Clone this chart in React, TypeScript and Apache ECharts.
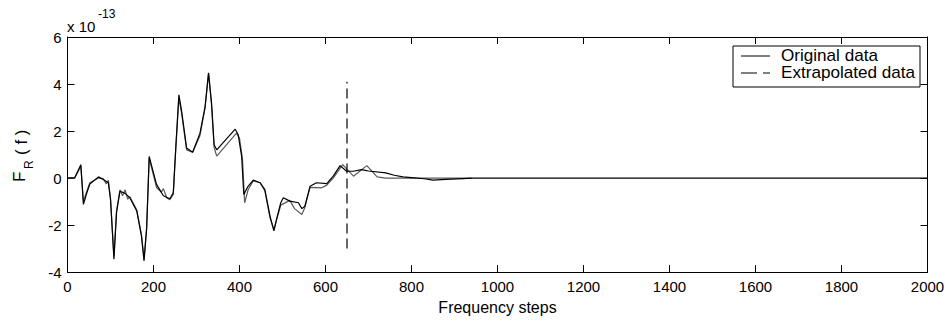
import React, { useEffect, useRef } from "react";
import * as echarts from "echarts";

// Values in units of 1e-13
const originalData: [number, number][] = [
  [0, 0], [17, 0.02], [31, 0.57], [37, -1.12], [45, -0.63], [52, -0.25], [72, 0.05], [83, -0.06],
  [95, -0.2], [100, -0.91], [108, -3.45], [114, -1.47], [122, -0.56], [134, -0.65], [145, -0.84],
  [161, -1.4], [172, -2.47], [178, -3.52], [184, -2.18], [190, 0.92], [196, 0.5], [207, -0.27],
  [223, -0.75], [238, -0.88], [246, -0.63], [252, 1.35], [259, 3.54], [265, 2.9], [277, 1.28],
  [291, 1.1], [308, 1.9], [320, 3.04], [328, 4.48], [335, 3.19], [341, 1.42], [347, 1.2],
  [390, 2.08], [397, 1.84], [405, 0.92], [410, -0.7], [420, -0.35], [432, -0.09], [448, -0.2],
  [459, -0.49], [471, -1.62], [480, -2.25], [486, -1.76], [496, -1.05], [502, -0.84], [517, -0.98],
  [537, -1.05], [545, -1.3], [552, -1.2], [564, -0.35], [579, -0.2], [603, -0.24], [618, 0.08],
  [634, 0.53], [649, 0.29], [665, 0.29], [684, 0.36], [700, 0.3], [740, 0.22], [760, 0.12],
  [780, 0.05], [800, 0.02], [830, -0.03], [850, -0.09], [880, -0.06], [920, -0.02], [940, 0],
  [2000, 0],
];

const extrapolatedData: [number, number][] = [
  [0, 0], [17, 0], [31, 0.5], [37, -1.0], [45, -0.55], [52, -0.2], [72, 0.0], [83, -0.02],
  [90, -0.25], [95, -0.1], [100, -0.85], [108, -3.35], [114, -1.4], [122, -0.5], [128, -0.75],
  [134, -0.5], [140, -0.9], [145, -0.8], [161, -1.35], [172, -2.4], [178, -3.45], [184, -2.1],
  [190, 0.85], [196, 0.4], [207, -0.4], [218, -0.6], [223, -0.45], [231, -0.85], [238, -0.92],
  [246, -0.7], [252, 1.3], [259, 3.4], [265, 2.8], [277, 1.2], [291, 1.1], [308, 1.8], [320, 3.0],
  [328, 4.45], [335, 3.1], [341, 1.3], [347, 0.93], [393, 1.91], [400, 1.7], [407, 0.8],
  [412, -1.05], [420, -0.5], [432, -0.12], [448, -0.2], [459, -0.55], [471, -1.7], [480, -2.2],
  [486, -1.8], [496, -1.15], [517, -0.95], [528, -1.3], [545, -1.55], [552, -1.25], [564, -0.4],
  [590, -0.42], [603, -0.3], [618, 0.0], [640, 0.57], [665, 0.08], [696, 0.53], [720, 0.05],
  [740, 0.0], [940, 0.0],
];

const boundaryLine: [number, number][] = [[650, -3], [650, 4.1]];

const xMin = 0, xMax = 2000, xStep = 200;
const yMin = -4, yMax = 6, yStep = 2;

const FONT = "Liberation Sans, Arial, sans-serif";

export default function App() {
  const ref = useRef<HTMLDivElement>(null);
  useEffect(() => {
    if (!ref.current) return;
    const chart = echarts.init(ref.current, undefined, { renderer: "svg" });
    const axisCommon = {
      axisLine: { show: true, onZero: false, lineStyle: { color: "#000", width: 1 } },
      axisTick: { show: true, inside: true, length: 7, lineStyle: { color: "#000", width: 1 } },
      splitLine: { show: false },
    };
    const plain = (v: number) => String(v);
    chart.setOption({
      animation: false,
      backgroundColor: "#fff",
      grid: { left: 67.5, right: 23.5, top: 37, bottom: 47, show: false },
      xAxis: [
        {
          type: "value", min: xMin, max: xMax, interval: xStep, position: "bottom",
          ...axisCommon,
          axisLabel: { color: "#000", fontSize: 15, fontFamily: FONT, margin: 7, formatter: plain },
          name: "Frequency steps", nameLocation: "middle", nameGap: 25,
          nameTextStyle: { color: "#000", fontSize: 16, fontFamily: FONT },
        },
        {
          type: "value", min: xMin, max: xMax, interval: xStep, position: "top",
          ...axisCommon, axisLabel: { show: false },
        },
      ],
      yAxis: [
        {
          type: "value", min: yMin, max: yMax, interval: yStep, position: "left",
          ...axisCommon,
          axisLabel: { color: "#000", fontSize: 15, fontFamily: FONT, margin: 6, formatter: plain },
        },
        {
          type: "value", min: yMin, max: yMax, interval: yStep, position: "right",
          ...axisCommon, axisLabel: { show: false },
        },
      ],
      series: [
        {
          name: "Extrapolated data", type: "line", data: extrapolatedData, showSymbol: false,
          lineStyle: { color: "#5a5a5a", width: 1.2 }, z: 2,
        },
        {
          name: "Original data", type: "line", data: originalData, showSymbol: false,
          lineStyle: { color: "#000", width: 1.2 }, z: 3,
        },
        {
          name: "Extrapolation start", type: "line", data: boundaryLine, showSymbol: false,
          lineStyle: { color: "#000", width: 1.2, type: [10, 5] }, z: 3,
        },
      ],
      graphic: [
        { type: "text", x: 67, y: 26, style: { text: "x 10", font: `15px ${FONT}`, fill: "#000", textVerticalAlign: "middle" } },
        { type: "text", x: 98, y: 14, style: { text: "-13", font: `12px ${FONT}`, fill: "#000", textVerticalAlign: "middle" } },
        { type: "text", x: 19, y: 182, rotation: Math.PI / 2, style: { text: "F", font: `17px ${FONT}`, fill: "#000", textAlign: "left", textVerticalAlign: "middle" } },
        { type: "text", x: 29, y: 169, rotation: Math.PI / 2, style: { text: "R", font: `12px ${FONT}`, fill: "#000", textAlign: "left", textVerticalAlign: "middle" } },
        { type: "text", x: 21, y: 155, rotation: Math.PI / 2, style: { text: "( f )", font: `17px ${FONT}`, fill: "#000", textAlign: "left", textVerticalAlign: "middle" } },
        { type: "rect", shape: { x: 733, y: 46, width: 187, height: 41 }, style: { fill: "#fff", stroke: "#000", lineWidth: 1 }, z: 10 },
        { type: "line", shape: { x1: 741, y1: 56, x2: 770, y2: 56 }, style: { stroke: "#000", lineWidth: 1 }, z: 11 },
        { type: "line", shape: { x1: 741, y1: 73, x2: 770, y2: 73 }, style: { stroke: "#000", lineWidth: 1, lineDash: [16, 6] }, z: 11 },
        { type: "text", x: 781, y: 56, scaleX: 1.07, style: { text: "Original data", font: `16px ${FONT}`, fill: "#000", textVerticalAlign: "middle" }, z: 11 },
        { type: "text", x: 781, y: 73, scaleX: 1.07, style: { text: "Extrapolated data", font: `16px ${FONT}`, fill: "#000", textVerticalAlign: "middle" }, z: 11 },
      ],
    });
    return () => chart.dispose();
  }, []);
  return <div ref={ref} style={{ position: "fixed", left: 0, top: 0, width: 951, height: 320 }} />;
}
